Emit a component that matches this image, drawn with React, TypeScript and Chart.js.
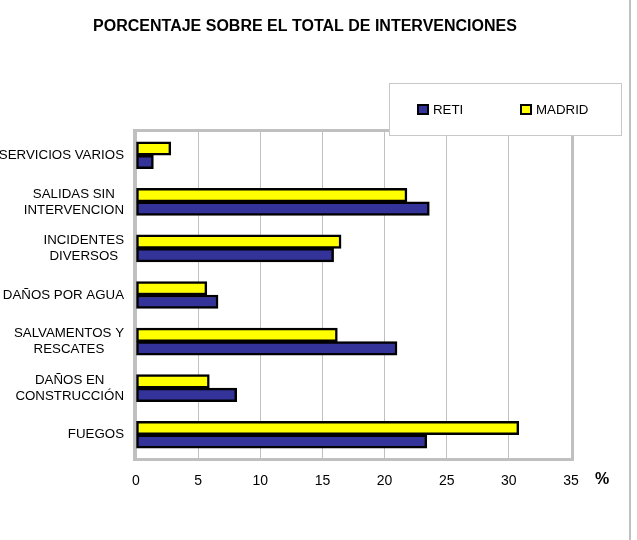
import React, { useEffect, useRef } from "react";
import { Chart, registerables } from "chart.js";

Chart.register(...registerables);

const TITLE = "PORCENTAJE SOBRE EL TOTAL DE INTERVENCIONES";
const categories: string[][] = [
  ["SERVICIOS VARIOS"],
  ["SALIDAS SIN", "INTERVENCION"],
  ["INCIDENTES", "DIVERSOS"],
  ["DAÑOS POR AGUA"],
  ["SALVAMENTOS Y", "RESCATES"],
  ["DAÑOS EN", "CONSTRUCCIÓN"],
  ["FUEGOS"],
];
const madrid = [2.8, 21.8, 16.5, 5.7, 16.2, 5.9, 30.8];
const reti = [1.4, 23.6, 15.9, 6.6, 21.0, 8.1, 23.4];
const xTicks = [0, 5, 10, 15, 20, 25, 30, 35];
const seriesNames = ["RETI", "MADRID"];
const UNIT = "%";

const FONT = "'Liberation Sans', Arial, sans-serif";
const YELLOW = "#FFFF00";
const BLUE = "#333399";
const GRAY = "#c0c0c0";

const decorPlugin = {
  id: "decor",
  beforeDatasetsDraw(chart: any) {
    const { ctx, chartArea: a } = chart;
    ctx.save();
    ctx.strokeStyle = GRAY;
    ctx.lineWidth = 3;
    ctx.strokeRect(a.left - 1.5, a.top - 1.5, a.right - a.left + 3, a.bottom - a.top + 3);
    ctx.restore();
  },
  afterDraw(chart: any) {
    const { ctx } = chart;
    const yScale = chart.scales.y;
    ctx.save();
    // chart outer right border
    ctx.fillStyle = GRAY;
    ctx.fillRect(629, 0, 2, 540);

    // title
    ctx.fillStyle = "#000";
    ctx.font = `bold 16px ${FONT}`;
    ctx.textAlign = "center";
    ctx.textBaseline = "middle";
    ctx.fillText(TITLE, 305, 27);

    // category labels, centered lines, right edge aligned
    ctx.font = `13.3px ${FONT}`;
    const lh = 16;
    categories.forEach((lines, i) => {
      const y = yScale.getPixelForTick(i);
      const maxW = Math.max(...lines.map((l) => ctx.measureText(l).width));
      const cx = 124 - maxW / 2;
      const y0 = y - ((lines.length - 1) * lh) / 2;
      lines.forEach((l, k) => ctx.fillText(l, cx, y0 + k * lh));
    });

    // unit
    ctx.font = `bold 16px ${FONT}`;
    ctx.fillText(UNIT, 602, 480);

    // legend
    ctx.fillStyle = "#fff";
    ctx.fillRect(389, 83, 233, 53);
    ctx.strokeStyle = "#c8c8c8";
    ctx.lineWidth = 1;
    ctx.strokeRect(389.5, 83.5, 232, 52);
    const items = [
      { name: seriesNames[0], color: BLUE, x: 417 },
      { name: seriesNames[1], color: YELLOW, x: 520 },
    ];
    ctx.font = `13.3px ${FONT}`;
    ctx.textAlign = "left";
    items.forEach((it) => {
      ctx.fillStyle = "#000";
      ctx.fillRect(it.x, 104, 12, 11);
      ctx.fillStyle = it.color;
      ctx.fillRect(it.x + 2, 106, 8, 7);
      ctx.fillStyle = "#000";
      ctx.fillText(it.name, it.x + 16, 110);
    });
    ctx.restore();
  },
};

export default function App() {
  const ref = useRef<HTMLCanvasElement | null>(null);
  useEffect(() => {
    document.body.style.margin = "0";
    const canvas = ref.current!;
    const chart = new Chart(canvas, {
      type: "bar",
      data: {
        labels: categories.map((c) => c.join(" ")),
        datasets: [
          {
            label: seriesNames[1],
            data: madrid,
            backgroundColor: YELLOW,
            borderColor: "#000",
            borderWidth: 2.5,
            borderSkipped: false,
            barThickness: 13.5,
          },
          {
            label: seriesNames[0],
            data: reti,
            backgroundColor: BLUE,
            borderColor: "#000",
            borderWidth: 2.5,
            borderSkipped: false,
            barThickness: 13.5,
          },
        ],
      },
      options: {
        indexAxis: "y",
        animation: false,
        responsive: false,
        devicePixelRatio: 1,
        layout: { padding: { left: 0, right: 66, top: 132, bottom: 52 } },
        plugins: {
          legend: { display: false },
          title: { display: false },
          tooltip: { enabled: false },
        },
        scales: {
          x: {
            min: 0,
            max: 35,
            afterBuildTicks: (s: any) => {
              s.ticks = xTicks.map((v) => ({ value: v }));
            },
            afterFit: (s: any) => {
              s.height = 30;
            },
            grid: { color: GRAY, lineWidth: 1, drawTicks: false },
            border: { display: false },
            ticks: {
              color: "#000",
              padding: 15,
              font: { family: FONT, size: 14 },
              maxRotation: 0,
            },
          },
          y: {
            afterFit: (s: any) => {
              s.width = 136;
            },
            grid: { display: false },
            border: { display: false },
            ticks: { display: false },
          },
        },
      },
      plugins: [decorPlugin],
    } as any);
    return () => chart.destroy();
  }, []);
  return (
    <div style={{ width: 637, height: 540, background: "#fff" }}>
      <canvas ref={ref} width={637} height={540} style={{ display: "block" }} />
    </div>
  );
}
